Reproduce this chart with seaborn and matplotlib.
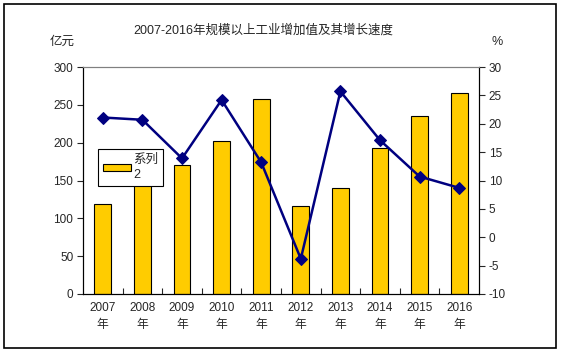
import numpy as np
import pandas as pd
import matplotlib
matplotlib.use('Agg')
import matplotlib.pyplot as plt
from matplotlib.patches import Rectangle, Patch
from matplotlib.ticker import MultipleLocator, FixedLocator
import seaborn as sns

# 数据
years = ['2007', '2008', '2009', '2010', '2011', '2012', '2013', '2014', '2015', '2016']
year_labels = [y + '\n年' for y in years]
added_value = [119, 148, 170.5, 202.5, 257.5, 116.5, 140.5, 193, 235, 265.5]   # 亿元
growth_rate = [21.1, 20.7, 13.9, 24.2, 13.2, -3.8, 25.7, 17.1, 10.7, 8.7]      # %

df = pd.DataFrame({'year': year_labels, 'value': added_value, 'rate': growth_rate})

sns.set_style('white')
plt.rcParams['font.family'] = ['Liberation Sans', 'Noto Sans CJK SC', 'DejaVu Sans']
plt.rcParams['axes.unicode_minus'] = False

fig = plt.figure(figsize=(5.61, 3.52), dpi=100)
ax = fig.add_axes([83 / 561, 1 - 294 / 352, (479 - 83) / 561, (294 - 67) / 352])

# 柱状图
sns.barplot(data=df, x='year', y='value', color='#FFCC00', width=0.42,
            edgecolor='black', linewidth=0.8, saturation=1, ax=ax)
ax.set_ylim(0, 300)
ax.yaxis.set_major_locator(MultipleLocator(50))
ax.set_xlim(-0.5, len(years) - 0.5)
ax.set_xlabel('')
ax.set_ylabel('')

# 右轴折线
ax2 = ax.twinx()
sns.lineplot(x=np.arange(len(years)), y=growth_rate, ax=ax2, color='#000080',
             marker='D', markersize=6, markeredgecolor='#000080', linewidth=1.8)
ax2.set_ylim(-10, 30)
ax2.yaxis.set_major_locator(MultipleLocator(5))
ax2.set_xlim(-0.5, len(years) - 0.5)

for a in (ax, ax2):
    for s in a.spines.values():
        s.set_color('black')
        s.set_linewidth(0.8)
    a.spines['top'].set_color('#808080')

ax.tick_params(axis='y', direction='out', length=4, width=0.8, labelsize=8.5, pad=3, left=True)
ax2.tick_params(axis='y', direction='out', length=4, width=0.8, labelsize=8.5, pad=3, right=True)
ax.tick_params(axis='x', which='major', length=0, labelsize=8.5, pad=6)
ax.xaxis.set_minor_locator(FixedLocator(np.arange(0.5, len(years) - 1, 1)))
ax.tick_params(axis='x', which='minor', direction='in', length=4, width=0.8, bottom=True)
for lbl in ax.get_xticklabels():
    lbl.set_linespacing(1.5)

# 标题与单位
fig.text(263 / 561, 1 - 30 / 352, '2007-2016年规模以上工业增加值及其增长速度',
         ha='center', va='center', fontsize=9)
fig.text(62 / 561, 1 - 42 / 352, '亿元', ha='center', va='center', fontsize=9)
fig.text(497 / 561, 1 - 42 / 352, '%', ha='center', va='center', fontsize=9)

# 图例
leg = ax2.legend(handles=[Patch(facecolor='#FFCC00', edgecolor='black', linewidth=0.8)],
                 labels=['系列\n2'], loc='upper left',
                 bbox_to_anchor=(98 / 561, 1 - 149 / 352), bbox_transform=fig.transFigure,
                 fancybox=False, frameon=True, fontsize=9, handlelength=2.2,
                 handleheight=0.45, borderpad=0.4, handletextpad=0.2, borderaxespad=0,
                 framealpha=1)
leg.get_frame().set_edgecolor('black')
leg.get_frame().set_linewidth(0.8)
leg.get_texts()[0].set_linespacing(1.3)
leg.set_zorder(10)

# 外边框
fig.patches.append(Rectangle((4 / 561, 4 / 352), 552 / 561, 344 / 352,
                             transform=fig.transFigure, fill=False,
                             edgecolor='black', linewidth=1.2))

fig.savefig('out.png', dpi=100)
